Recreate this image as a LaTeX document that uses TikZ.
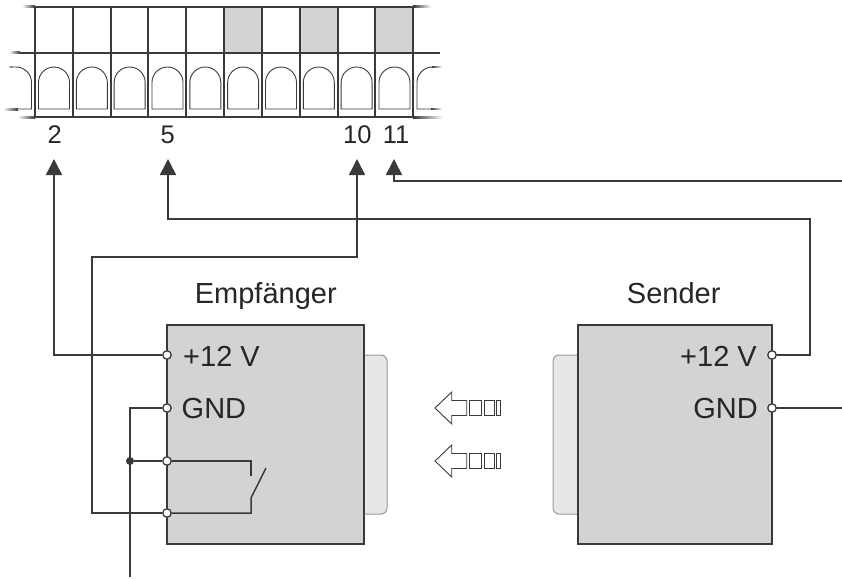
\documentclass[tikz,border=0pt]{standalone}
\usepackage{fontspec}
\setmainfont{Liberation Sans}
\usetikzlibrary{arrows.meta}
\definecolor{boxgray}{HTML}{D1D3D4}
\definecolor{tabgray}{HTML}{E6E7E8}
\definecolor{wirecol}{HTML}{3A3A3A}
\tikzset{
    wire/.style={draw=wirecol,line width=1.5pt},
    feed/.style={wire,-{Triangle[length=16pt,width=16pt]}},
    term/.style={circle,draw=wirecol,fill=white,line width=1.3pt,inner sep=0pt,minimum size=8.5pt},
    device/.style={draw=wirecol,fill=boxgray,line width=1.5pt,outer sep=0pt},
    tab/.style={draw=gray!80,fill=tabgray,line width=1pt,rounded corners=6pt},
    pocket/.style={draw=wirecol,line width=.9pt},
    flow/.style={draw=wirecol,line width=.9pt,fill=white},
    fadeL/.style={left color=white,right color=wirecol},
    fadeR/.style={left color=wirecol,right color=white},
    lbl/.style={font=\fontsize{29}{33}\selectfont,text=black!85,inner sep=0pt},
    num/.style={font=\fontsize{25.5}{30}\selectfont,text=black!85,inner sep=0pt,anchor=base}
}
\begin{document}
\begin{tikzpicture}[x=1pt,y=-1pt]
    \useasboundingbox (0,0) rectangle (842,578);

    % terminal strip
    \foreach \i in {5,7,9}
    {
        \fill[boxgray] (35+37.83*\i,7) rectangle (35+37.83*\i+37.83,53);
    }
    \draw[wire] (35,7) -- (413,7);
    \draw[wire] (20,53) -- (440,53);
    \draw[wire] (35,117) -- (413,117);
    \shade[fadeL] (22,6) rectangle (35,8);
    \shade[fadeR] (413,6) rectangle (431,8);
    \shade[fadeL] (9,52) rectangle (20,54);
    \shade[fadeL] (18,116) rectangle (35,118);
    \shade[fadeR] (413,116) rectangle (443,118);
    \foreach \i in {0,...,10}
    {
        \pgfmathsetmacro\xpos{round(35+37.83*\i)}
        \draw[wire] (\xpos,7) -- (\xpos,117);
    }
    \foreach \i in {0,...,9}
    {
        \draw[pocket] (38.5+37.83*\i,109) -- ++(0,-26.5) arc (180:0:15.5 and -15.5) -- ++(0,26.5) -- cycle;
    }
    \draw[pocket] (12,67) -- (16,67) arc (90:0:15.5 and -15.5) -- (31.5,109) -- (18,109);
    \draw[pocket] (431,109) -- (417,109) -- (417,82.5) arc (180:90:15.5 and -15.5);
    \shade[fadeL] (3,108) rectangle (18,110);
    \shade[fadeL] (8,66.5) rectangle (12,67.5);
    \shade[fadeR] (431,108.5) rectangle (442,109.5);
    \shade[fadeR] (432,66.5) rectangle (442,67.5);

    \node[num] (l2) at (54.7,143.3) {2};
    \node[num] (l5) at (167.7,143.3) {5};
    \node[num] (l10) at (357.3,143.3) {10};
    \node[num] (l11) at (396,143.3) {11};

    \coordinate (p2) at (54,159);
    \coordinate (p5) at (168,159);
    \coordinate (p10) at (357,159);
    \coordinate (p11) at (394,159);
    \coordinate (edgeT) at (842,181);
    \coordinate (edgeG) at (842,408);
    \coordinate (edgeB) at (130,577);

    % devices
    \draw[tab] (350,355) rectangle (387,514);
    \draw[tab] (553,355) rectangle (590,514);
    \node[device,anchor=north west,minimum width=197pt,minimum height=219pt] (emp) at (167,325) {};
    \node[device,anchor=north west,minimum width=194pt,minimum height=219pt] (sen) at (578,325) {};
    \node[lbl,anchor=base] (empL) at (265.8,303.5) {Empfänger};
    \node[lbl,anchor=base] (senL) at (673.7,303.5) {Sender};

    \node[lbl,anchor=base west] (ev) at (183,366) {+12 V};
    \node[lbl,anchor=base west] (eg) at (181.5,418.3) {GND};
    \node[lbl,anchor=base east] (sv) at (757,366) {+12 V};
    \node[lbl,anchor=base east] (sg) at (758,418.3) {GND};

    % wiring
    \coordinate (sw1) at (251,476);
    \coordinate (sw2) at (251,498);
    \coordinate (sw3) at (266,468);
    \coordinate (bendE) at (92,257);
    \coordinate (bendS) at (810,219);
    \node[term] (tV) at (167,355) {};
    \node[term] (tG) at (167,408) {};
    \node[term] (tA) at (167,461) {};
    \node[term] (tB) at (167,513) {};
    \node[term] (sV) at (772,355) {};
    \node[term] (sG) at (772,408) {};
    \node[circle,fill=wirecol,inner sep=0pt,minimum size=8pt] (dot) at (130,461) {};

    \draw[feed] (tV) -| (p2);
    \draw[wire] (tG) -| (edgeB);
    \draw[wire] (dot) -- (tA);
    \draw[wire] (tA) -| (sw1);
    \draw[wire] (tB) -| (sw2) -- (sw3);
    \draw[feed] (tB) -| (bendE) -| (p10);
    \draw[feed] (sV) -| (bendS) -| (p5);
    \draw[wire] (sG) -- (edgeG);
    \draw[feed] (edgeT) -| (p11);

    % direction marks
    \foreach \y in {408,461}
    {
        \draw[flow] (435,\y) -- (451.7,\y-16) -- (451.7,\y-7.5) -- (466.7,\y-7.5) -- (466.7,\y+7.5) -- (451.7,\y+7.5) -- (451.7,\y+16) -- cycle;
        \draw[flow] (469.3,\y-7.5) rectangle (481.7,\y+7.5);
        \draw[flow] (484.3,\y-7.5) rectangle (494,\y+7.5);
        \draw[flow] (496.3,\y-7.5) rectangle (500.7,\y+7.5);
    }
\end{tikzpicture}
\end{document}
